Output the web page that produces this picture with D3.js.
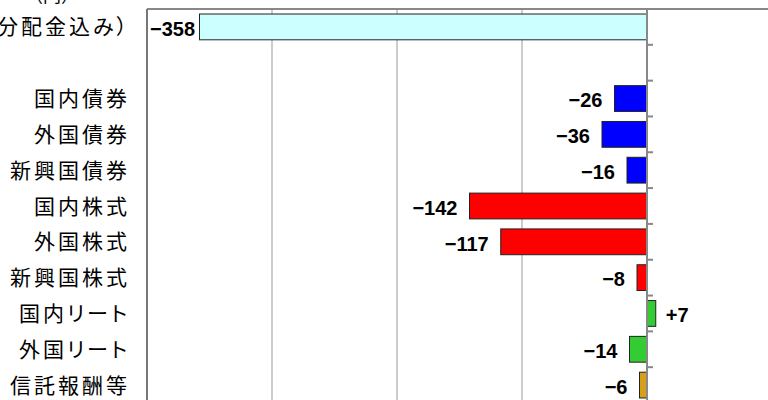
<!DOCTYPE html>
<html>
<head>
<meta charset="utf-8">
<script src="https://unpkg.com/d3@7/dist/d3.min.js"></script>
<style>
  body { margin: 0; background: #fff; }
  svg { display: block; }
  .cat { font-feature-settings: "palt"; }
</style>
</head>
<body>
<div class="chart"></div>
<script>
// categories, top to bottom ("" is the empty spacer row)
var categories = [
  "基準価額の変動額（分配金込み）", "",
  "国内債券", "外国債券", "新興国債券",
  "国内株式", "外国株式", "新興国株式",
  "国内リート", "外国リート", "信託報酬等"
];
var values = [-358, null, -26, -36, -16, -142, -117, -8, 7, -14, -6];
var groups = ["total", null, "bond", "bond", "bond", "stock", "stock", "stock", "reit", "reit", "fee"];
var gridTicks = [-400, -300, -200, -100];

var colors = { total: "#ccffff", bond: "#0000ff", stock: "#ff0000", reit: "#33cc33", fee: "#d4a017" };

var width = 768, height = 400;
var plot = { left: 147, right: 772, top: 9, bottom: 403 };

var svg = d3.select(".chart").append("svg")
  .attr("width", width)
  .attr("height", height);

var x = d3.scaleLinear().domain([-400, 100]).range([plot.left, plot.right]);
var y = d3.scaleBand().domain(d3.range(categories.length))
  .range([plot.top, plot.bottom]).paddingInner(0.28).paddingOuter(0.14);

// unit label, mostly cut off by the top of the picture
svg.append("text")
  .attr("x", 52).attr("y", 2)
  .attr("text-anchor", "middle")
  .attr("font-family", "Noto Sans CJK JP")
  .attr("font-size", 18)
  .attr("fill", "#000")
  .text("（円）");

// grid lines
svg.append("g").selectAll("line")
  .data(gridTicks.slice(1))
  .join("line")
  .attr("x1", d => x(d)).attr("x2", d => x(d))
  .attr("y1", plot.top).attr("y2", height)
  .attr("stroke", "#999").attr("stroke-width", 1);

// plot border: top and left
svg.append("line")
  .attr("x1", x(-400)).attr("x2", width)
  .attr("y1", plot.top).attr("y2", plot.top)
  .attr("stroke", "#888").attr("stroke-width", 2);
svg.append("line")
  .attr("x1", x(-400)).attr("x2", x(-400))
  .attr("y1", plot.top).attr("y2", height)
  .attr("stroke", "#777").attr("stroke-width", 2);

// bars
var rows = categories.map((c, i) => ({ i: i, name: c, v: values[i], g: groups[i] }));
var bars = rows.filter(d => d.v != null);

svg.append("g").selectAll("rect")
  .data(bars)
  .join("rect")
  .attr("x", d => x(Math.min(0, d.v)))
  .attr("width", d => Math.abs(x(d.v) - x(0)))
  .attr("y", d => y(d.i))
  .attr("height", y.bandwidth())
  .attr("fill", d => colors[d.g])
  .attr("stroke", "#222")
  .attr("stroke-width", 1);

// zero axis with ticks on band edges
var axis = svg.append("g");
axis.append("line")
  .attr("x1", x(0)).attr("x2", x(0))
  .attr("y1", plot.top).attr("y2", height)
  .attr("stroke", "#888").attr("stroke-width", 2);
axis.selectAll(".tk")
  .data(d3.range(1, categories.length + 1))
  .join("line")
  .attr("class", "tk")
  .attr("x1", x(0)).attr("x2", x(0) + 6)
  .attr("y1", d => plot.top + d * y.step()).attr("y2", d => plot.top + d * y.step())
  .attr("stroke", "#888").attr("stroke-width", 2);

// category labels
svg.append("g").selectAll("text")
  .data(rows.filter(d => d.name))
  .join("text")
  .attr("class", "cat")
  .attr("x", 130)
  .attr("y", d => y(d.i) + y.bandwidth() / 2)
  .attr("dy", "0.36em")
  .attr("text-anchor", "end")
  .attr("font-family", "Noto Sans CJK JP")
  .attr("font-size", 21)
  .attr("letter-spacing", 3)
  .attr("fill", "#000")
  .text(d => d.name);

// value labels
svg.append("g").selectAll("text")
  .data(bars)
  .join("text")
  .attr("y", d => y(d.i) + y.bandwidth() / 2)
  .attr("dy", "0.44em")
  .attr("text-anchor", "start")
  .attr("font-family", "Liberation Sans, sans-serif")
  .attr("font-weight", "bold")
  .attr("font-size", 20)
  .attr("fill", "#000")
  .text(d => (d.v > 0 ? "+" : "\u2212") + Math.abs(d.v))
  .attr("x", function (d) {
    if (d.v > 0) return x(d.v) + 10;
    var w = this.getComputedTextLength();
    // keep the label inside the plot when the bar is long
    return Math.max(x(d.v) - 12 - w, plot.left + 3);
  });
</script>
</body>
</html>
